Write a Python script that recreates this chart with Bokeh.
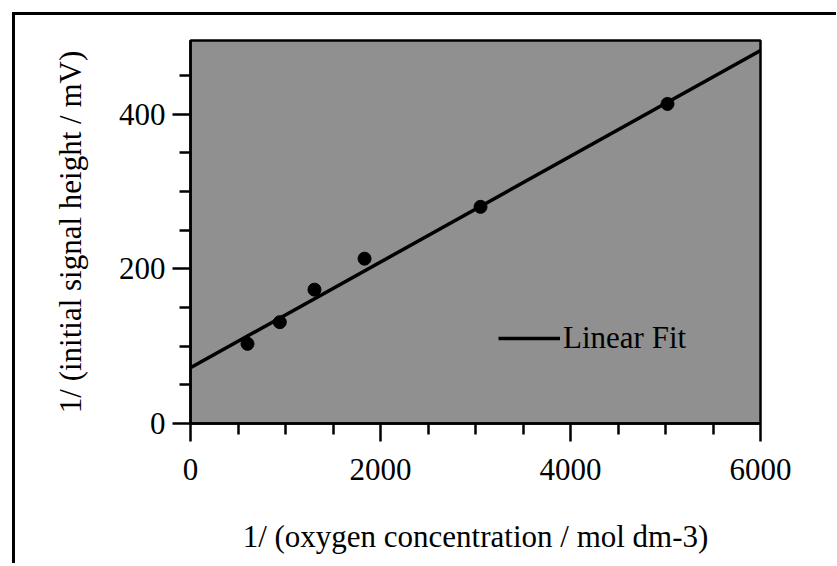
from bokeh.plotting import figure
from bokeh.models import FixedTicker, Legend, LegendItem
from bokeh.embed import file_html
from bokeh.resources import INLINE

# Data
inv_oxygen = [600, 940, 1305, 1832, 3053, 5021]
inv_signal = [103, 131, 173, 213, 280, 413]
fit_x = [0, 6000]
fit_y = [72, 482]

x_major = [0, 2000, 4000, 6000]
x_minor = [500, 1000, 1500, 2500, 3000, 3500, 4500, 5000, 5500]
y_major = [0, 200, 400]
y_minor = [50, 100, 150, 250, 300, 350, 450]

FONT = "Liberation Serif"
FS = "31px"

p = figure(frame_width=570, frame_height=383,
           x_range=(0, 6000), y_range=(0, 495),
           output_backend="svg", toolbar_location=None,
           min_border_left=175, min_border_top=25,
           min_border_right=76, min_border_bottom=140)
p.margin = (12, 0, 0, 12)
p.styles = {"border-left": "3px solid black", "border-top": "3px solid black"}

p.background_fill_color = "#909090"
p.border_fill_color = "white"
p.outline_line_color = "black"
p.outline_line_width = 2.5
p.grid.visible = False

fit = p.line(fit_x, fit_y, line_color="black", line_width=3.5)
p.scatter(inv_oxygen, inv_signal, size=13, color="black")

for ax in (p.xaxis[0], p.yaxis[0]):
    ax.axis_line_width = 2.5
    ax.major_tick_line_width = 2.5
    ax.minor_tick_line_width = 2.5
    ax.major_tick_out = 18
    ax.major_tick_in = 0
    ax.minor_tick_out = 11
    ax.minor_tick_in = 0
    ax.major_label_text_font = FONT
    ax.major_label_text_font_size = FS
    ax.major_label_text_color = "black"
    ax.axis_label_text_font = FONT
    ax.axis_label_text_font_size = FS
    ax.axis_label_text_font_style = "normal"
    ax.axis_label_text_color = "black"

p.xaxis[0].ticker = FixedTicker(ticks=x_major, minor_ticks=x_minor)
p.yaxis[0].ticker = FixedTicker(ticks=y_major, minor_ticks=y_minor)
p.xaxis[0].axis_label = "1/ (oxygen concentration / mol dm-3)"
p.yaxis[0].axis_label = "1/ (initial signal height / mV)"
p.xaxis[0].major_label_standoff = 17
p.xaxis[0].axis_label_standoff = 36
p.yaxis[0].major_label_standoff = 7
p.yaxis[0].axis_label_standoff = 28

legend = Legend(items=[LegendItem(label="Linear Fit", renderers=[fit])],
                location=(308, 67), orientation="vertical")
legend.background_fill_alpha = 0
legend.border_line_alpha = 0
legend.padding = 0
legend.margin = 0
legend.glyph_width = 62
legend.glyph_height = 36
legend.label_height = 36
legend.label_standoff = 3
legend.label_text_font = FONT
legend.label_text_font_size = FS
legend.label_text_color = "black"
p.add_layout(legend)

open("out.html", "w").write(file_html(p, INLINE))
